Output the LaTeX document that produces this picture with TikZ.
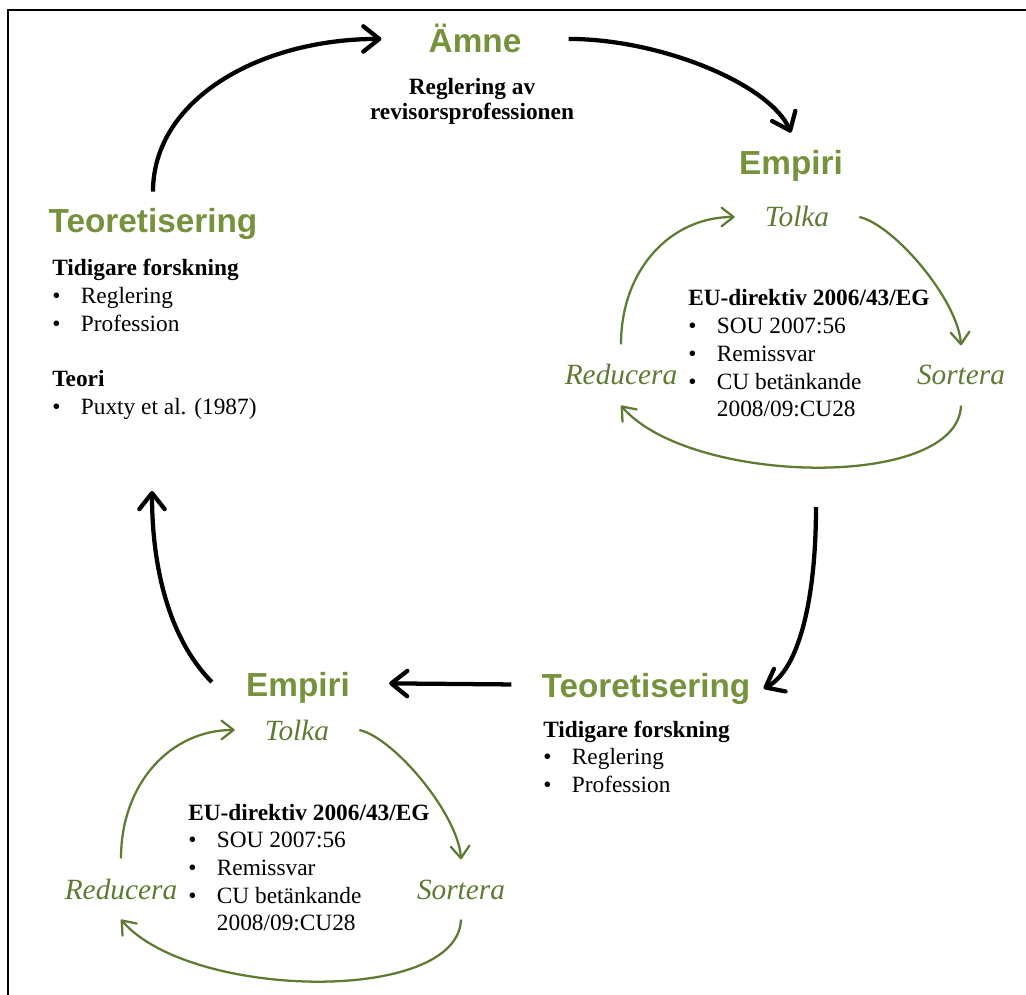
\documentclass[tikz,border=0pt]{standalone}
\usepackage{fontspec}
\setmainfont{Liberation Serif}
\setsansfont{Liberation Sans}
\usepackage{tikz}
\usepackage{xcolor}
\usetikzlibrary{arrows.meta,positioning,calc}

\definecolor{titlegreen}{RGB}{118,146,60}
\definecolor{cyclegreen}{RGB}{95,122,50}

\begin{document}
\begin{tikzpicture}[
    x=0.75pt, y=-0.75pt,
    every node/.style={font=\fontsize{17.5}{20.8}\selectfont, inner sep=0pt},
    heading/.style={font=\sffamily\bfseries\fontsize{25}{30}\selectfont, text=titlegreen, anchor=base},
    phase/.style={font=\itshape\fontsize{22}{26}\selectfont, text=cyclegreen, anchor=base, inner xsep=22.5pt, inner ysep=15pt},
    listbox/.style={anchor=base west},
    bigarrow/.style={draw, line width=3.2pt, -{Straight Barb[length=12pt,width=19pt,round]}},
    cyclearrow/.style={draw=cyclegreen, line width=1.7pt, -{Straight Barb[length=9pt,width=14pt,round]}},
    frameline/.style={draw, line width=1.5pt}
]
\useasboundingbox (0,0) rectangle (1026,995);
\draw[frameline] (1026,10) -- (8,10) -- (8,995);

\node[heading] (amne) at (475,53) {Ämne};
\node[anchor=base, font=\bfseries\fontsize{17.5}{18.75}\selectfont] (topic) at (472,95)
    {\begin{tabular}[t]{@{}c@{}}Reglering av\\revisorsprofessionen\end{tabular}};

\node[heading] (teo1) at (153,233) {Teoretisering};
\node[listbox] (prior1) at (52,276) {\begin{tabular}[t]{@{}p{21.5pt}@{}l@{}}
    \multicolumn{2}{@{}l@{}}{\textbf{Tidigare forskning}}\\
    \textbullet & Reglering\\
    \textbullet & Profession\\[20.8pt]
    \multicolumn{2}{@{}l@{}}{\textbf{Teori}}\\
    \textbullet & Puxty et al. (1987)
\end{tabular}};

\node[heading] (emp1) at (791,175) {Empiri};
\node[phase] (tolka1) at (797,227) {Tolka};
\node[phase] (red1) at (621,385) {Reducera};
\node[phase] (sor1) at (961,385) {Sortera};
\node[listbox] (eu1) at (688,306) {\begin{tabular}[t]{@{}p{21.5pt}@{}l@{}}
    \multicolumn{2}{@{}l@{}}{\textbf{EU-direktiv 2006/43/EG}}\\
    \textbullet & SOU 2007:56\\
    \textbullet & Remissvar\\
    \textbullet & CU betänkande\\
    & 2008/09:CU28
\end{tabular}};

\node[heading] (teo2) at (646,697) {Teoretisering};
\node[listbox] (prior2) at (543,737) {\begin{tabular}[t]{@{}p{21.5pt}@{}l@{}}
    \multicolumn{2}{@{}l@{}}{\textbf{Tidigare forskning}}\\
    \textbullet & Reglering\\
    \textbullet & Profession
\end{tabular}};

\node[heading] (emp2) at (298,696) {Empiri};
\node[phase] (tolka2) at (297,740) {Tolka};
\node[phase] (red2) at (121,899) {Reducera};
\node[phase] (sor2) at (461,899) {Sortera};
\node[listbox] (eu2) at (188,820) {\begin{tabular}[t]{@{}p{21.5pt}@{}l@{}}
    \multicolumn{2}{@{}l@{}}{\textbf{EU-direktiv 2006/43/EG}}\\
    \textbullet & SOU 2007:56\\
    \textbullet & Remissvar\\
    \textbullet & CU betänkande\\
    & 2008/09:CU28
\end{tabular}};

\coordinate (emp1out) at (816,507);
\coordinate (teo1in) at (152,491);

% main loop
\draw[bigarrow] ([yshift=12.75pt]teo1.north) .. controls +(0,-92) and +(-122,0) .. ([xshift=-35.25pt]amne.west);
\draw[bigarrow] ([xshift=35.25pt]amne.east) .. controls +(93,0) and +(-21,-48) .. ([yshift=13.5pt]emp1.north);
\draw[bigarrow] (emp1out) .. controls +(0,93) and +(35,-18) .. ([xshift=9.75pt]teo2.east);
\draw[bigarrow] ([xshift=-22.5pt,yshift=3pt]teo2.west) -- ([xshift=29.25pt,yshift=3pt]emp2.east);
\draw[bigarrow] ([xshift=-25.5pt,yshift=4pt]emp2.west) .. controls +(-37,-37) and +(0,89) .. (teo1in);

% empiri cycles
\draw[cyclearrow] (red1.north) .. controls +(0,-75) and +(-64,0) .. (tolka1.west);
\draw[cyclearrow] (tolka1.east) .. controls +(35,8) and +(-3,-45) .. (sor1.north);
\draw[cyclearrow] (sor1.south) .. controls +(-3,85) and +(69,80) .. (red1.south);

\draw[cyclearrow] (red2.north) .. controls +(0,-75) and +(-64,0) .. (tolka2.west);
\draw[cyclearrow] (tolka2.east) .. controls +(35,8) and +(-3,-45) .. (sor2.north);
\draw[cyclearrow] (sor2.south) .. controls +(-3,85) and +(69,80) .. (red2.south);

\end{tikzpicture}
\end{document}
